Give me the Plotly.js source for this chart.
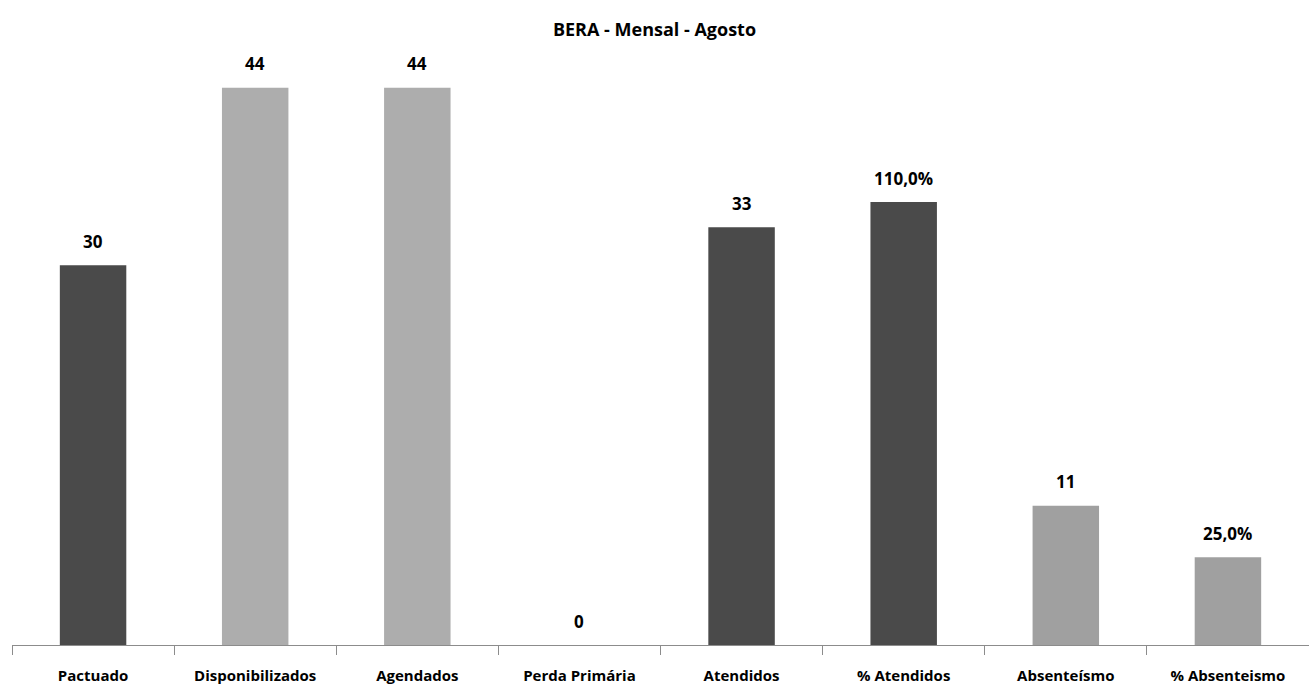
<!DOCTYPE html>
<html><head><meta charset="utf-8">
<script src="https://cdn.plot.ly/plotly-3.0.1.min.js"></script>
<style>html,body{margin:0;padding:0;background:#fff;overflow:hidden}</style>
</head><body>
<div id="chart" style="width:1309px;height:688px"></div>
<script>
const categories = ["Pactuado","Disponibilizados","Agendados","Perda Primária","Atendidos","% Atendidos","Absenteísmo","% Absenteismo"];
const countCategories = ["Pactuado","Disponibilizados","Agendados","Perda Primária","Atendidos","Absenteísmo"];
const countValues = [30, 44, 44, 0, 33, 11];
const countColors = ["#4a4a4a","#adadad","#adadad","#adadad","#4a4a4a","#a0a0a0"];
const pctCategories = ["% Atendidos","% Absenteismo"];
const pctValues = [110.0, 25.0];
const pctColors = ["#4a4a4a","#a0a0a0"];

const fmtPct = v => v.toFixed(1).replace('.', ',') + '%';
const FONT = "Open Sans, Noto Sans, sans-serif";
const labelFont = {family:FONT, size:17, color:"#000", weight:"bold"};

const traces = [
  {type:"bar", x:countCategories, y:countValues, marker:{color:countColors}, width:0.41, hoverinfo:"x+y"},
  {type:"bar", x:pctCategories, y:pctValues, yaxis:"y2", marker:{color:pctColors}, width:0.41, hoverinfo:"x+y"}
];

const annotations = [];
countCategories.forEach((c,i) => annotations.push({x:c, y:countValues[i], xref:"x", yref:"y",
  text:"<b>"+countValues[i]+"</b>", showarrow:false, yshift:24, yanchor:"middle", font:labelFont}));
pctCategories.forEach((c,i) => annotations.push({x:c, y:pctValues[i], xref:"x", yref:"y2",
  text:"<b>"+fmtPct(pctValues[i])+"</b>", showarrow:false, yshift:24, yanchor:"middle", font:labelFont}));

const layout = {
  width:1309, height:688,
  margin:{l:12, r:0, t:60, b:43},
  paper_bgcolor:"#fff", plot_bgcolor:"#fff",
  showlegend:false, barmode:"overlay",
  annotations: annotations,
  title:{text:"<b>BERA - Mensal - Agosto</b>", x:0.5, xanchor:"center", y:0.957, yanchor:"middle",
         font:{family:FONT, size:18, color:"#000"}},
  xaxis:{type:"category", categoryorder:"array", categoryarray:categories,
         showline:true, linecolor:"#8c8c8c", linewidth:1,
         ticks:"outside", tickson:"boundaries", ticklen:9, tickcolor:"#8c8c8c",
         ticklabelstandoff:17,
         tickfont:{family:FONT, size:15, color:"#000", weight:"bold"},
         showgrid:false, zeroline:false},
  yaxis:{range:[0, 46.2], visible:false, showgrid:false, zeroline:false},
  yaxis2:{range:[4, 144], overlaying:"y", visible:false, showgrid:false, zeroline:false}
};

Plotly.newPlot("chart", traces, layout, {displayModeBar:false, staticPlot:true});
</script>
</body></html>
